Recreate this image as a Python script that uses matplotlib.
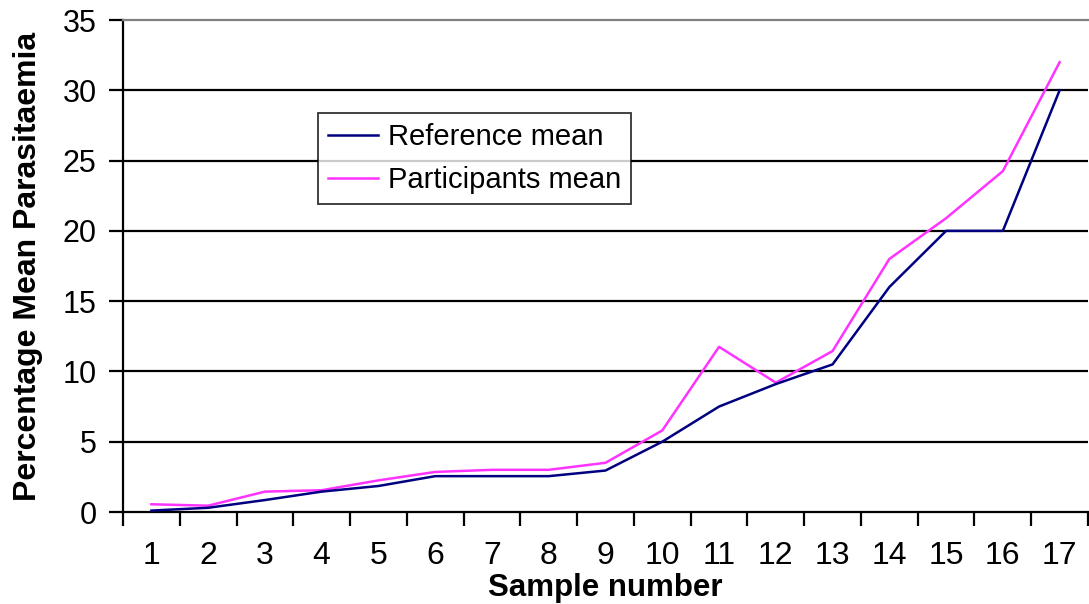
import numpy as np
import matplotlib
matplotlib.use('Agg')
import matplotlib.pyplot as plt
from matplotlib.ticker import FixedLocator

# data
samples = list(range(1, 18))
reference_mean = [0.1, 0.3, 0.85, 1.45, 1.85, 2.55, 2.55, 2.55, 2.95, 5.0,
                  7.5, 9.1, 10.5, 16.0, 20.0, 20.0, 30.0]
participants_mean = [0.55, 0.45, 1.45, 1.55, 2.25, 2.85, 3.0, 3.0, 3.5, 5.8,
                     11.75, 9.2, 11.45, 18.0, 20.9, 24.25, 32.0]
y_ticks = [0, 5, 10, 15, 20, 25, 30, 35]

plt.rcParams['font.family'] = ['Liberation Sans', 'DejaVu Sans']

fig = plt.figure(figsize=(10.89, 6.04), dpi=100)
ax = fig.add_axes([123/1089, 1 - 512/604, (1088 - 123)/1089, (512 - 20)/604])

# grid lines
for v in y_ticks[1:-1]:
    ax.axhline(v, color='black', lw=1.6, zorder=1)

ax.plot(samples, reference_mean, color='#000080', lw=1.8, label='Reference mean', zorder=3)
ax.plot(samples, participants_mean, color='#FF33FF', lw=1.8, label='Participants mean', zorder=2)

ax.set_xlim(0.5, 17.5)
ax.set_ylim(0, 35)

# axes look
ax.spines['right'].set_visible(False)
ax.spines['top'].set_color('#808080')
ax.spines['top'].set_linewidth(1.6)
ax.spines['left'].set_linewidth(1.6)
ax.spines['bottom'].set_linewidth(1.6)

ax.set_yticks(y_ticks)
ax.tick_params(axis='y', direction='out', length=10, width=1.6, labelsize=22, pad=9)

ax.set_xticks(samples)
ax.set_xticklabels([str(s) for s in samples])
ax.xaxis.set_minor_locator(FixedLocator(np.arange(0.5, 18, 1)))
ax.tick_params(axis='x', which='major', length=0, labelsize=23, pad=21)
ax.tick_params(axis='x', which='minor', direction='out', length=10, width=1.6)

ax.set_xlabel('Sample number', fontsize=22.5, fontweight='bold', labelpad=1)
ax.set_ylabel('Percentage Mean Parasitaemia', fontsize=23, fontweight='bold', labelpad=14)

leg = ax.legend(loc='upper left', bbox_to_anchor=(318/1089, 1 - 113/604),
                bbox_transform=fig.transFigure, borderaxespad=0,
                fontsize=21, frameon=True, fancybox=False, shadow=False,
                handlelength=1.7, handletextpad=0.35, labelspacing=0.5,
                borderpad=0.35)
leg.get_frame().set_edgecolor('black')
leg.get_frame().set_linewidth(1.3)
leg.set_zorder(5)

fig.savefig('out.png', dpi=100)
